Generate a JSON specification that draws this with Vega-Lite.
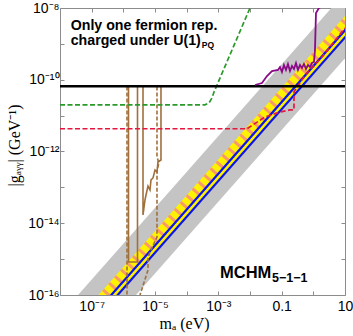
{
  "$schema": "https://vega.github.io/schema/vega-lite/v6.json",
  "width": 285,
  "height": 287,
  "autosize": {"type": "none"},
  "padding": {"left": 60, "top": 8, "right": 8, "bottom": 41},
  "background": "white",
  "config": {
    "view": {"stroke": "#8c8c8c", "strokeWidth": 1},
    "axis": {"grid": false, "domain": false, "tickColor": "#8c8c8c", "tickSize": -4, "labelFont": "Liberation Sans", "labelFontSize": 14, "labelColor": "#000", "labelFlush": false, "labelOverlap": false, "titleFont": "Liberation Serif", "titleFontWeight": "normal", "titleFontSize": 16, "titleColor": "#000"}
  },
  "datasets": {
    "curves": [
      {"s": "gray", "i": 0, "m": 1e-9, "g": 2.69e-18, "g2": 3.98e-20},
      {"s": "gray", "i": 1, "m": 100, "g": 2.69e-7, "g2": 3.98e-9},
      {"s": "yellow", "i": 0, "m": 1e-9, "g": 6.03e-19, "g2": 1.38e-19},
      {"s": "yellow", "i": 1, "m": 100, "g": 6.03e-8, "g2": 1.38e-8},
      {"s": "hatch", "i": 0, "m": 1e-9, "g": 3.8e-19},
      {"s": "hatch", "i": 1, "m": 100, "g": 3.8e-8},
      {"s": "blue1", "i": 0, "m": 1e-9, "g": 2.4e-19},
      {"s": "blue1", "i": 1, "m": 100, "g": 2.4e-8},
      {"s": "blue2", "i": 0, "m": 1e-9, "g": 1.51e-19},
      {"s": "blue2", "i": 1, "m": 100, "g": 1.51e-8},
      {"s": "black", "i": 0, "m": 1e-8, "g": 6.6e-11},
      {"s": "black", "i": 1, "m": 10, "g": 6.6e-11},
      {"s": "green", "i": 0, "m": 1e-8, "g": 2e-11},
      {"s": "green", "i": 1, "m": 3.79e-4, "g": 2e-11},
      {"s": "green", "i": 2, "m": 5.07e-4, "g": 2.25e-11},
      {"s": "green", "i": 3, "m": 6.3e-4, "g": 3.1e-11},
      {"s": "green", "i": 4, "m": 7.3e-4, "g": 4.56e-11},
      {"s": "green", "i": 5, "m": 1e-2, "g": 1e-8},
      {"s": "red", "i": 0, "m": 1e-8, "g": 4.3e-12},
      {"s": "red", "i": 1, "m": 8.04e-3, "g": 4.3e-12},
      {"s": "red", "i": 2, "m": 0.0297, "g": 9.16e-12},
      {"s": "red", "i": 3, "m": 0.0885, "g": 1.26e-11},
      {"s": "red", "i": 4, "m": 0.183, "g": 1.44e-11},
      {"s": "red", "i": 5, "m": 0.245, "g": 1.44e-11},
      {"s": "red", "i": 6, "m": 0.245, "g": 4.56e-11},
      {"s": "red", "i": 7, "m": 0.545, "g": 1.35e-10},
      {"s": "red", "i": 8, "m": 1.875, "g": 4.3e-10},
      {"s": "red", "i": 9, "m": 10, "g": 2.77e-9},
      {"s": "purple", "i": 0, "m": 0.01435, "g": 7.14e-11},
      {"s": "purple", "i": 1, "m": 0.0239, "g": 8.1e-11},
      {"s": "purple", "i": 2, "m": 0.0344, "g": 1.27e-10},
      {"s": "purple", "i": 3, "m": 0.0494, "g": 1.75e-10},
      {"s": "purple", "i": 4, "m": 0.0764, "g": 1.87e-10},
      {"s": "purple", "i": 5, "m": 0.0885, "g": 2.26e-10},
      {"s": "purple", "i": 6, "m": 0.102, "g": 1.64e-10},
      {"s": "purple", "i": 7, "m": 0.118, "g": 2.58e-10},
      {"s": "purple", "i": 8, "m": 0.137, "g": 1.87e-10},
      {"s": "purple", "i": 9, "m": 0.158, "g": 2.75e-10},
      {"s": "purple", "i": 10, "m": 0.183, "g": 1.75e-10},
      {"s": "purple", "i": 11, "m": 0.212, "g": 2.42e-10},
      {"s": "purple", "i": 12, "m": 0.245, "g": 2.0e-10},
      {"s": "purple", "i": 13, "m": 0.283, "g": 2.93e-10},
      {"s": "purple", "i": 14, "m": 0.327, "g": 1.87e-10},
      {"s": "purple", "i": 15, "m": 0.379, "g": 2.58e-10},
      {"s": "purple", "i": 16, "m": 0.438, "g": 2.13e-10},
      {"s": "purple", "i": 17, "m": 0.506, "g": 2.75e-10},
      {"s": "purple", "i": 18, "m": 0.586, "g": 2.0e-10},
      {"s": "purple", "i": 19, "m": 0.677, "g": 2.58e-10},
      {"s": "purple", "i": 20, "m": 0.783, "g": 2.26e-10},
      {"s": "purple", "i": 21, "m": 0.906, "g": 2.93e-10},
      {"s": "purple", "i": 22, "m": 1.047, "g": 3.13e-10},
      {"s": "purple", "i": 23, "m": 1.127, "g": 6.75e-10},
      {"s": "purple", "i": 24, "m": 1.212, "g": 7.26e-9},
      {"s": "purple", "i": 25, "m": 1.507, "g": 1e-8},
      {"s": "purple", "i": 26, "m": 2.17, "g": 1.2e-8},
      {"s": "brown1", "i": 0, "m": 1.456e-6, "g": 6.5e-11},
      {"s": "brown1", "i": 1, "m": 1.456e-6, "g": 8.3e-16},
      {"s": "brown1", "i": 2, "m": 2.8e-6, "g": 8.3e-16},
      {"s": "brown1", "i": 3, "m": 2.8e-6, "g": 6.5e-11},
      {"s": "brown2", "i": 0, "m": 4.18e-6, "g": 6.5e-11},
      {"s": "brown2", "i": 1, "m": 4.18e-6, "g": 1.7e-14},
      {"s": "brown2", "i": 2, "m": 4.83e-6, "g": 4.45e-14},
      {"s": "brown2", "i": 3, "m": 5.2e-6, "g": 6.12e-14},
      {"s": "brown2", "i": 4, "m": 6.01e-6, "g": 1.09e-13},
      {"s": "brown2", "i": 5, "m": 6.95e-6, "g": 8.45e-14},
      {"s": "brown2", "i": 6, "m": 7.47e-6, "g": 1.61e-13},
      {"s": "brown2", "i": 7, "m": 8.65e-6, "g": 1.83e-13},
      {"s": "brown2", "i": 8, "m": 1e-5, "g": 3.05e-13},
      {"s": "brown2", "i": 9, "m": 1.156e-5, "g": 2.68e-13},
      {"s": "brown2", "i": 10, "m": 1.24e-5, "g": 5.1e-13},
      {"s": "brown2", "i": 11, "m": 1.545e-5, "g": 5.8e-13},
      {"s": "brown2", "i": 12, "m": 1.545e-5, "g": 6.5e-11},
      {"s": "brownd1", "i": 0, "m": 1.306e-6, "g": 6.5e-11},
      {"s": "brownd1", "i": 1, "m": 1.306e-6, "g": 1e-16},
      {"s": "brownd2", "i": 0, "m": 1.156e-5, "g": 6.5e-11},
      {"s": "brownd2", "i": 1, "m": 1.156e-5, "g": 7.03e-13},
      {"s": "brownd2", "i": 2, "m": 1.336e-5, "g": 4.78e-13},
      {"s": "brownd2", "i": 3, "m": 1.156e-5, "g": 3.05e-13},
      {"s": "brownd2", "i": 4, "m": 1.156e-5, "g": 4.14e-15},
      {"s": "brownd2", "i": 5, "m": 6.95e-6, "g": 1.58e-15},
      {"s": "brownd2", "i": 6, "m": 6.01e-6, "g": 1.07e-15},
      {"s": "brownd2", "i": 7, "m": 6.01e-6, "g": 4.98e-16},
      {"s": "brownd2", "i": 8, "m": 3.36e-6, "g": 1e-16}
    ],
    "labels": [
      {"k": "note", "m": 2.18e-8, "g": 3.2e-9, "t": "Only one fermion rep."},
      {"k": "note", "m": 2.18e-8, "g": 1.22e-9, "t": "charged under U(1)"},
      {"k": "sub", "m": 3.0e-4, "g": 9.6e-10, "t": "PQ"},
      {"k": "model", "m": 1.127e-3, "g": 4.2e-16, "t": "MCHM"},
      {"k": "modelsub", "m": 0.0494, "g": 3.0e-16, "t": "5−1−1"}
    ]
  },
  "data": {"name": "curves"},
  "encoding": {
    "x": {"field": "m", "type": "quantitative", "scale": {"type": "log", "domain": [1e-8, 10], "nice": false}, "axis": null},
    "y": {"field": "g", "type": "quantitative", "scale": {"type": "log", "domain": [1e-16, 1e-8], "nice": false}, "axis": null}
  },
  "layer": [
    {
      "transform": [{"filter": {"field": "s", "equal": "gray"}}],
      "mark": {"type": "area", "clip": true, "color": "#c4c4c4"},
      "encoding": {
        "x": {"field": "m", "type": "quantitative", "scale": {"type": "log", "domain": [1e-8, 10], "nice": false},
          "axis": {"orient": "bottom", "values": [1e-8, 1e-7, 1e-6, 1e-5, 1e-4, 1e-3, 1e-2, 1e-1, 1, 10],
            "labelExpr": "round(log(datum.value)/LN10)==-7?'10⁻⁷':round(log(datum.value)/LN10)==-5?'10⁻⁵':round(log(datum.value)/LN10)==-3?'10⁻³':round(log(datum.value)/LN10)==-1?'0.1':round(log(datum.value)/LN10)==1?'10':''",
            "labelPadding": 8, "title": "mₐ (eV)", "titleX": 124, "titleY": 28, "titleBaseline": "middle", "titleAlign": "center"}},
        "y": {"field": "g", "type": "quantitative", "scale": {"type": "log", "domain": [1e-16, 1e-8], "nice": false},
          "axis": {"orient": "left", "values": [1e-16, 1e-15, 1e-14, 1e-13, 1e-12, 1e-11, 1e-10, 1e-9, 1e-8],
            "labelExpr": "round(log(datum.value)/LN10)==-8?'10⁻⁸':round(log(datum.value)/LN10)==-10?'10⁻¹⁰':round(log(datum.value)/LN10)==-12?'10⁻¹²':round(log(datum.value)/LN10)==-14?'10⁻¹⁴':round(log(datum.value)/LN10)==-16?'10⁻¹⁶':''",
            "labelPadding": 5, "title": "|gₐᵧᵧ| (GeV⁻¹)", "titleX": -46, "titleY": 137, "titleBaseline": "middle", "titleAlign": "center", "titleAngle": -90}},
        "y2": {"field": "g2"}
      }
    },
    {
      "transform": [{"filter": {"field": "s", "equal": "yellow"}}],
      "mark": {"type": "area", "clip": true, "color": "#fff200"},
      "encoding": {"y2": {"field": "g2"}}
    },
    {
      "transform": [{"filter": {"field": "s", "equal": "hatch"}}],
      "mark": {"type": "line", "clip": true, "color": "#f99a6a", "strokeWidth": 9.5, "strokeDash": [3, 6]},
      "encoding": {"order": {"field": "i"}}
    },
    {
      "transform": [{"filter": {"field": "s", "oneOf": ["blue1", "blue2"]}}],
      "mark": {"type": "line", "clip": true, "color": "#0a14f0", "strokeWidth": 2.2},
      "encoding": {"detail": {"field": "s"}, "order": {"field": "i"}}
    },
    {
      "transform": [{"filter": {"field": "s", "oneOf": ["brown1", "brown2"]}}],
      "mark": {"type": "line", "clip": true, "color": "#a0703c", "strokeWidth": 1.6},
      "encoding": {"detail": {"field": "s"}, "order": {"field": "i"}}
    },
    {
      "transform": [{"filter": {"field": "s", "oneOf": ["brownd1", "brownd2"]}}],
      "mark": {"type": "line", "clip": true, "color": "#a0703c", "strokeWidth": 1.6, "strokeDash": [4, 2]},
      "encoding": {"detail": {"field": "s"}, "order": {"field": "i"}}
    },
    {
      "transform": [{"filter": {"field": "s", "equal": "green"}}],
      "mark": {"type": "line", "clip": true, "color": "#2a9a2a", "strokeWidth": 1.7, "strokeDash": [5, 2.5]},
      "encoding": {"order": {"field": "i"}}
    },
    {
      "transform": [{"filter": {"field": "s", "equal": "red"}}],
      "mark": {"type": "line", "clip": true, "color": "#e5173f", "strokeWidth": 1.7, "strokeDash": [5, 2.5]},
      "encoding": {"order": {"field": "i"}}
    },
    {
      "transform": [{"filter": {"field": "s", "equal": "black"}}],
      "mark": {"type": "line", "clip": true, "color": "#000000", "strokeWidth": 2.5},
      "encoding": {
        "order": {"field": "i"},
        "x": {"field": "m", "type": "quantitative", "scale": {"type": "log", "domain": [1e-8, 10], "nice": false},
          "axis": {"orient": "top", "values": [1e-8, 1e-7, 1e-6, 1e-5, 1e-4, 1e-3, 1e-2, 1e-1, 1, 10], "labels": false, "title": null}},
        "y": {"field": "g", "type": "quantitative", "scale": {"type": "log", "domain": [1e-16, 1e-8], "nice": false},
          "axis": {"orient": "right", "values": [1e-16, 1e-15, 1e-14, 1e-13, 1e-12, 1e-11, 1e-10, 1e-9, 1e-8], "labels": false, "title": null}}
      }
    },
    {
      "transform": [{"filter": {"field": "s", "equal": "purple"}}],
      "mark": {"type": "line", "clip": true, "color": "#8a0a8a", "strokeWidth": 1.8},
      "encoding": {"order": {"field": "i"}}
    },
    {
      "data": {"name": "labels"},
      "transform": [{"filter": {"field": "k", "equal": "note"}}],
      "mark": {"type": "text", "align": "left", "baseline": "middle", "font": "Liberation Sans", "fontWeight": "bold", "fontSize": 14.2, "color": "#000"},
      "encoding": {"text": {"field": "t"}}
    },
    {
      "data": {"name": "labels"},
      "transform": [{"filter": {"field": "k", "equal": "sub"}}],
      "mark": {"type": "text", "align": "left", "baseline": "middle", "font": "Liberation Sans", "fontWeight": "bold", "fontSize": 8.5, "color": "#000"},
      "encoding": {"text": {"field": "t"}}
    },
    {
      "data": {"name": "labels"},
      "transform": [{"filter": {"field": "k", "equal": "model"}}],
      "mark": {"type": "text", "align": "left", "baseline": "middle", "font": "Liberation Sans", "fontWeight": "bold", "fontSize": 16.5, "color": "#000"},
      "encoding": {"text": {"field": "t"}}
    },
    {
      "data": {"name": "labels"},
      "transform": [{"filter": {"field": "k", "equal": "modelsub"}}],
      "mark": {"type": "text", "align": "left", "baseline": "middle", "font": "Liberation Sans", "fontWeight": "bold", "fontSize": 12.5, "color": "#000"},
      "encoding": {"text": {"field": "t"}}
    }
  ],
  "resolve": {"axis": {"x": "independent", "y": "independent"}}
}
